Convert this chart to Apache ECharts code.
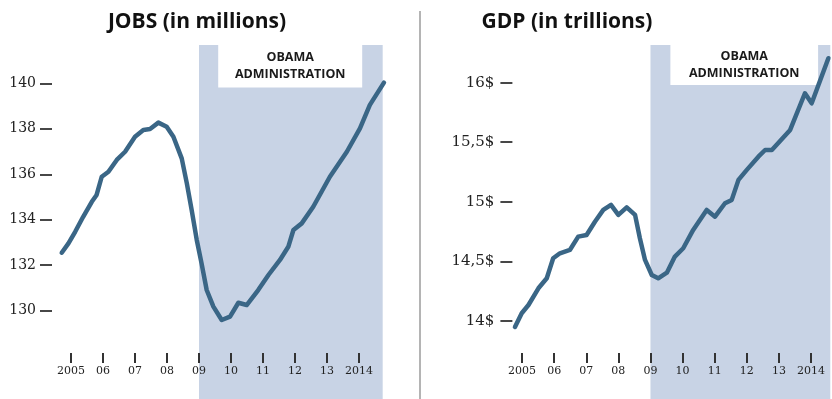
<!DOCTYPE html>
<html>
<head>
<meta charset="utf-8">
<script src="https://cdn.jsdelivr.net/npm/echarts@6/dist/echarts.min.js"></script>
<style>
  html, body { margin: 0; padding: 0; background: #ffffff; }
  #chart { width: 832px; height: 399px; }
</style>
</head>
<body>
<div id="chart"></div>
<script>
// ---- Data ----
const jobsTitle = 'JOBS (in millions)';
const gdpTitle = 'GDP (in trillions)';
const obamaLabel = 'OBAMA\nADMINISTRATION';

const xTickYears = [2005, 2006, 2007, 2008, 2009, 2010, 2011, 2012, 2013, 2014];
const xTickLabels = ['2005', '06', '07', '08', '09', '10', '11', '12', '13', '2014'];

const jobsTickValues = [130, 132, 134, 136, 138, 140];
const jobsTickLabels = ['130', '132', '134', '136', '138', '140'];

const gdpTickValues = [14, 14.5, 15, 15.5, 16];
const gdpTickLabels = ['14$', '14,5$', '15$', '15,5$', '16$'];

const jobsYears = [2004.71, 2004.92, 2005.13, 2005.38, 2005.65, 2005.80, 2005.96, 2006.17, 2006.43, 2006.69,
  2007.00, 2007.26, 2007.47, 2007.73, 2007.99, 2008.20, 2008.46, 2008.62, 2008.77, 2008.93,
  2009.08, 2009.24, 2009.45, 2009.71, 2009.97, 2010.23, 2010.49, 2010.85, 2011.17, 2011.53,
  2011.79, 2011.95, 2012.21, 2012.57, 2013.09, 2013.62, 2014.03, 2014.34, 2014.78];
const jobsValues = [132.55, 132.96, 133.47, 134.13, 134.79, 135.09, 135.89, 136.11, 136.63, 136.99,
  137.65, 137.95, 137.99, 138.27, 138.09, 137.65, 136.70, 135.60, 134.43, 133.11,
  132.08, 130.91, 130.18, 129.59, 129.74, 130.35, 130.25, 130.91, 131.57, 132.23,
  132.81, 133.55, 133.84, 134.57, 135.89, 136.99, 138.02, 139.05, 140.03];

const gdpYears = [2004.78, 2004.99, 2005.20, 2005.51, 2005.77, 2005.97, 2006.18, 2006.49, 2006.75, 2007.01,
  2007.27, 2007.53, 2007.77, 2008.00, 2008.26, 2008.52, 2008.67, 2008.83, 2009.04, 2009.24,
  2009.51, 2009.76, 2010.02, 2010.33, 2010.75, 2011.01, 2011.32, 2011.53, 2011.74, 2012.00,
  2012.36, 2012.57, 2012.78, 2013.35, 2013.81, 2014.02, 2014.54];
const gdpValues = [13.95, 14.065, 14.134, 14.274, 14.358, 14.526, 14.568, 14.596, 14.708, 14.722,
  14.833, 14.932, 14.974, 14.890, 14.954, 14.890, 14.694, 14.512, 14.386, 14.358,
  14.405, 14.54, 14.61, 14.764, 14.932, 14.875, 14.988, 15.016, 15.184, 15.268,
  15.379, 15.435, 15.435, 15.603, 15.911, 15.827, 16.205];

// Obama administration span (years)
const obamaStart = 2009;
const jobsShadeEnd = 2014.74;
const gdpShadeEnd = 2014.6;

// ---- Styles ----
const lineColor = '#3a6686';
const shadeColor = '#c8d3e5';
const axisTextColor = '#222222';

function zip(xs, ys) { return xs.map((x, i) => [x, ys[i]]); }

function xAxisFor(gridIndex, min, max) {
  return {
    type: 'value', gridIndex: gridIndex, min: min, max: max,
    position: 'bottom', offset: -46, z: 10,
    axisLine: { show: false },
    splitLine: { show: false },
    axisTick: { show: true, length: 10, inside: false, customValues: xTickYears,
      lineStyle: { color: '#333', width: 2 } },
    axisLabel: { customValues: xTickYears, margin: 13,
      fontFamily: 'DejaVu Serif', fontSize: 11, color: axisTextColor,
      formatter: v => { const i = xTickYears.findIndex(y => Math.abs(y - v) < 1e-6); return i >= 0 ? xTickLabels[i] : ''; } }
  };
}

function yAxisFor(gridIndex, min, max, vals, labels, offset, margin, fontSize) {
  return {
    type: 'value', gridIndex: gridIndex, min: min, max: max, offset: offset, z: 10,
    axisLine: { show: false },
    splitLine: { show: false },
    axisTick: { show: true, length: 12, customValues: vals, lineStyle: { color: '#333', width: 1.8 } },
    axisLabel: { customValues: vals, margin: margin, fontFamily: 'DejaVu Serif', fontSize: fontSize, color: axisTextColor,
      formatter: v => { const i = vals.findIndex(y => Math.abs(y - v) < 1e-6); return i >= 0 ? labels[i] : ''; } }
  };
}

function obamaMarkArea(xMin, xMax, yTop, yBoxBottom, yBottom, boxLeft, boxRight) {
  return {
    silent: true,
    data: [
      [ { coord: [xMin, yTop], itemStyle: { color: shadeColor } }, { coord: [xMax, yBottom] } ],
      [ { coord: [boxLeft, yTop], itemStyle: { color: '#ffffff' },
          label: { show: true, position: 'inside', formatter: obamaLabel, fontFamily: 'Open Sans', fontWeight: 'bold',
                   fontSize: 12.5, lineHeight: 17, color: '#1a1a1a', align: 'center' } },
        { coord: [boxRight, yBoxBottom] } ]
    ]
  };
}

const chart = echarts.init(document.getElementById('chart'), null, { renderer: 'canvas' });

const jobsYMin = 126.117, jobsYMax = 141.904;
const gdpYMin = 13.345, gdpYMax = 16.358;

chart.setOption({
  animation: false,
  backgroundColor: '#ffffff',
  title: [
    { text: jobsTitle, left: 192, top: 7, textAlign: 'center',
      textStyle: { fontFamily: 'Open Sans', fontWeight: 'bold', fontSize: 21, color: '#111' } },
    { text: gdpTitle, left: 562, top: 7, textAlign: 'center',
      textStyle: { fontFamily: 'Open Sans', fontWeight: 'bold', fontSize: 21, color: '#111' } }
  ],
  graphic: [
    { type: 'line', shape: { x1: 420, y1: 11, x2: 420, y2: 399 }, style: { stroke: '#b4b4b4', lineWidth: 2 } }
  ],
  grid: [
    { left: 55, right: 445.8, top: 40, bottom: 0 },
    { left: 512.4, right: 1.7, top: 40, bottom: 0 }
  ],
  xAxis: [ xAxisFor(0, 2004.5, 2014.85), xAxisFor(1, 2004.7, 2014.6) ],
  yAxis: [
    yAxisFor(0, jobsYMin, jobsYMax, jobsTickValues, jobsTickLabels, 3, 16, 14),
    yAxisFor(1, gdpYMin, gdpYMax, gdpTickValues, gdpTickLabels, 0, 18, 15)
  ],
  series: [
    { type: 'line', xAxisIndex: 0, yAxisIndex: 0, data: zip(jobsYears, jobsValues),
      showSymbol: false, smooth: false, z: 3,
      lineStyle: { color: lineColor, width: 4.5, cap: 'round', join: 'round' },
      markArea: obamaMarkArea(obamaStart, jobsShadeEnd, 141.68, 139.82, jobsYMin, 2009.60, 2014.10) },
    { type: 'line', xAxisIndex: 1, yAxisIndex: 1, data: zip(gdpYears, gdpValues),
      showSymbol: false, smooth: false, z: 3,
      lineStyle: { color: lineColor, width: 4.5, cap: 'round', join: 'round' },
      markArea: obamaMarkArea(obamaStart, gdpShadeEnd, 16.316, 15.981, gdpYMin, 2009.62, 2014.22) }
  ]
});
</script>
</body>
</html>
